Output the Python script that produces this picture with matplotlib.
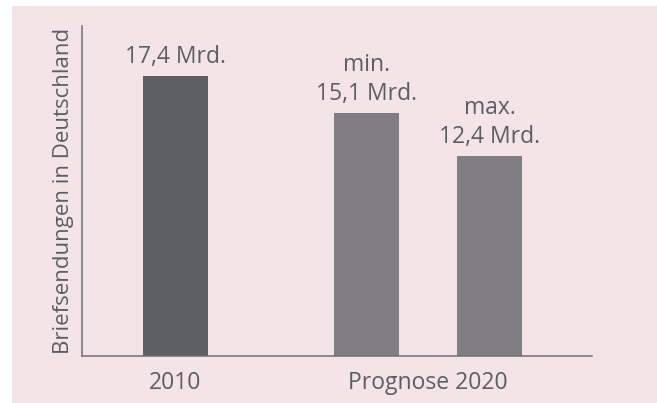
import matplotlib.pyplot as plt
from matplotlib.patches import Rectangle

categories = ['2010', 'min.', 'max.']
values = [17.4, 15.1, 12.4]
bar_labels = ['17,4 Mrd.', 'min.\n15,1 Mrd.', 'max.\n12,4 Mrd.']
group_labels = ['2010', 'Prognose 2020']
ylabel = 'Briefsendungen in Deutschland'

bg = '#f4e4e8'
txt = '#5b5e65'
colors = ['#5c5f66', '#807e84', '#807e84']

plt.rcParams['font.family'] = ['Open Sans', 'DejaVu Sans']

fig = plt.figure(figsize=(6.57, 4.03), dpi=100, facecolor='white')
# pink panel behind everything
fig.add_artist(Rectangle((12 / 657, 0), 645 / 657, 397 / 403,
                         transform=fig.transFigure, facecolor=bg,
                         edgecolor='none', zorder=-10))

ax = fig.add_axes([82 / 657, 47 / 403, 510 / 657, 330 / 403])
ax.set_facecolor('none')

xpos = [1.438, 4.377, 6.269]
ax.bar(xpos, values, width=1.0, color=colors, zorder=2)

for x, v, lab in zip(xpos, values, bar_labels):
    ax.annotate(lab, (x, v), xytext=(0, 5), textcoords='offset points',
                ha='center', va='bottom', fontsize=16.5, color=txt,
                linespacing=1.3)

ax.set_xlim(0, 7.846)
ax.set_ylim(0, 20.5)

ax.set_xticks([xpos[0], (xpos[1] + xpos[2]) / 2])
ax.set_xticklabels(group_labels, fontsize=16.5, color=txt)
ax.tick_params(axis='x', length=0, pad=11)
ax.set_yticks([])

for s in ['top', 'right']:
    ax.spines[s].set_visible(False)
for s in ['left', 'bottom']:
    ax.spines[s].set_color('#707074')
    ax.spines[s].set_linewidth(1.1)

ax.text(-0.037, 0.5, ylabel, transform=ax.transAxes, rotation=90,
        ha='center', va='center', fontsize=16, color=txt)

fig.savefig('out.png', dpi=100, facecolor=fig.get_facecolor())
